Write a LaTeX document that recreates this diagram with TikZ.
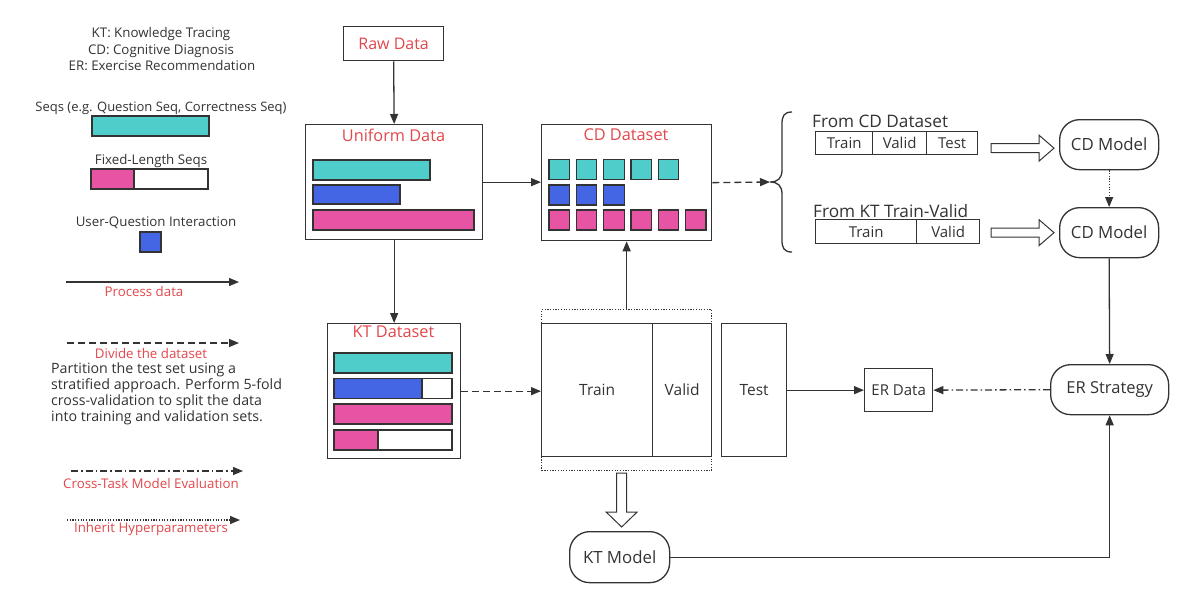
\documentclass[tikz,border=0pt]{standalone}
\usepackage{fontspec}
\setmainfont{Open Sans}
\usetikzlibrary{arrows.meta,calc}
\definecolor{lc}{HTML}{333333}
\definecolor{rtxt}{HTML}{E2474B}
\definecolor{teal1}{HTML}{4ECDCB}
\definecolor{blue1}{HTML}{4466E4}
\definecolor{mag1}{HTML}{E754A4}
\newcommand{\hollowR}[2]{\draw[draw=lc,line width=1pt,fill=white] let \p1=(#1), \p2=(#2) in (\x1,\y1+4.5pt) -- (\x2-15pt,\y1+4.5pt) -- (\x2-15pt,\y1+13pt) -- (\x2,\y1) -- (\x2-15pt,\y1-13pt) -- (\x2-15pt,\y1-4.5pt) -- (\x1,\y1-4.5pt) -- cycle;}
\newcommand{\hollowD}[2]{\draw[draw=lc,line width=1pt,fill=white] let \p1=(#1), \p2=(#2) in (\x1-5pt,\y1) -- (\x1-5pt,\y2+15pt) -- (\x1-15.5pt,\y2+15pt) -- (\x1,\y2) -- (\x1+15.5pt,\y2+15pt) -- (\x1+5pt,\y2+15pt) -- (\x1+5pt,\y1) -- cycle;}
\begin{document}
\begin{tikzpicture}[x=1pt,y=-1pt,
  ln/.style={draw=lc, line width=1.3pt},
  arr/.style={ln, -{Triangle[length=10pt,width=8pt]}},
  box/.style={draw=lc, line width=1.3pt, inner sep=0pt, anchor=north west, text=lc, font=\fontsize{15}{18}\selectfont},
  rbox/.style={box, rounded corners=20pt, font=\fontsize{16.8}{20}\selectfont},
  txt/.style={text=lc, inner sep=0pt, font=\fontsize{13.3}{16}\selectfont},
  rtx/.style={text=rtxt, inner sep=0pt, font=\fontsize{13.3}{16}\selectfont},
  ttl/.style={text=rtxt, inner sep=0pt, font=\fontsize{16.3}{19}\selectfont},
  bar/.style={draw=lc, line width=1.2pt},
  dashpat/.style={dash pattern=on 7pt off 4pt},
  dotpat/.style={dash pattern=on 1.2pt off 1.5pt},
  dashdotpat/.style={dash pattern=on 7pt off 3pt on 1.5pt off 3pt}
]
\useasboundingbox (0,0) rectangle (1192,606);
\fill[white] (0,0) rectangle (1192,606);

% ---------------- legend ----------------
\node[txt] (lg1) at (161,34) {KT: Knowledge Tracing};
\node[txt] (lg2) at (161,51) {CD: Cognitive Diagnosis};
\node[txt] (lg3) at (162,66) {ER: Exercise Recommendation};
\node[txt, font=\fontsize{13}{16}\selectfont] (lgs) at (161,108) {Seqs (e.g. Question Seq, Correctness Seq)};
\draw[bar, fill=teal1] (92,116) rectangle (209,136);
\node[txt] (lgf) at (151,161) {Fixed-Length Seqs};
\draw[bar, fill=white] (91,169) rectangle (208,189);
\draw[bar, fill=mag1] (91,169) rectangle (134,189);
\node[txt] (lgu) at (156,223) {User-Question Interaction};
\draw[bar, fill=blue1] (140,232) rectangle (161,252);

\coordinate (la1) at (66,282); \coordinate (lb1) at (239,282);
\draw[arr] (la1) -- (lb1);
\node[rtx] (lt1) at (144,292) {Process data};

\coordinate (la2) at (67,343); \coordinate (lb2) at (239,343);
\draw[arr, dashpat] (la2) -- (lb2);
\node[rtx] (lt2) at (151,354) {Divide the dataset};
\node[txt, anchor=north west, align=left, font=\fontsize{14.2}{16}\selectfont] (lpar) at (51,362.5) {Partition the test set using a\\stratified approach. Perform 5-fold\\cross-validation to split the data\\into training and validation sets.};

\coordinate (la3) at (71,471); \coordinate (lb3) at (243,471);
\draw[arr, dashdotpat] (la3) -- (lb3);
\node[rtx] (lt3) at (151,484) {Cross-Task Model Evaluation};

\coordinate (la4) at (67,520); \coordinate (lb4) at (240,520);
\draw[arr, dotpat] (la4) -- (lb4);
\node[rtx] (lt4) at (151,529) {Inherit Hyperparameters};

% ---------------- main nodes ----------------
\node[box, text=rtxt, minimum width=100pt, minimum height=34pt, font=\fontsize{16}{19}\selectfont] (raw) at (343,26) {Raw Data};

\node[box, minimum width=177pt, minimum height=115pt] (uni) at (305,124) {};
\node[ttl] (unit) at (393.5,135) {Uniform Data};
\draw[bar, fill=teal1] (313,160) rectangle (430,180);
\draw[bar, fill=blue1] (313,185) rectangle (400,204);
\draw[bar, fill=mag1] (313,210) rectangle (474,230);

\node[box, minimum width=170pt, minimum height=116pt] (cdd) at (541,124) {};
\node[ttl] (cddt) at (626,135) {CD Dataset};
\foreach \i in {0,...,4} \draw[bar, fill=teal1] (549+\i*27.3,159.5) rectangle ++(20.5,20);
\foreach \i in {0,...,2} \draw[bar, fill=blue1] (549+\i*27.3,185) rectangle ++(20.5,20);
\foreach \i in {0,...,5} \draw[bar, fill=mag1] (549+\i*27.3,210) rectangle ++(20.5,20);

\node[box, minimum width=133pt, minimum height=135pt] (ktd) at (327,323) {};
\node[ttl] (ktdt) at (393.5,332) {KT Dataset};
\draw[bar, fill=teal1] (334,353) rectangle (452,373);
\draw[bar, fill=white] (334,378.5) rectangle (452,398.5);
\draw[bar, fill=blue1] (334,378.5) rectangle (422,398.5);
\draw[bar, fill=mag1] (334,404) rectangle (452,424);
\draw[bar, fill=white] (334,430) rectangle (452,450);
\draw[bar, fill=mag1] (334,430) rectangle (378,450);

\node[box, dotpat, minimum width=170pt, minimum height=161pt] (tvo) at (541,309) {};
\node[box, minimum width=111pt, minimum height=133pt, font=\fontsize{15.5}{18}\selectfont] (trn) at (541,323) {Train};
\node[box, minimum width=59pt, minimum height=133pt, font=\fontsize{15.5}{18}\selectfont] (val) at (652,323) {Valid};
\node[box, minimum width=65pt, minimum height=133pt, font=\fontsize{15.5}{18}\selectfont] (tst) at (721,323) {Test};

\node[box, minimum width=68pt, minimum height=43pt] (erd) at (864,368) {ER Data};
\node[rbox, minimum width=118pt, minimum height=50pt, font=\fontsize{16.5}{20}\selectfont] (ers) at (1050,364) {ER Strategy};
\node[rbox, minimum width=99pt, minimum height=50pt] (cdm1) at (1059,119) {CD Model};
\node[rbox, minimum width=99pt, minimum height=50pt] (cdm2) at (1059,207) {CD Model};
\node[rbox, minimum width=100pt, minimum height=51pt] (ktm) at (569,531) {KT Model};

% tables
\node[txt, anchor=west, font=\fontsize{17.2}{20}\selectfont] (fcd) at (812,121) {From CD Dataset};
\node[box, minimum width=57pt, minimum height=23pt] (c1a) at (815,131) {Train};
\node[box, minimum width=54pt, minimum height=23pt] (c1b) at (872,131) {Valid};
\node[box, minimum width=51pt, minimum height=23pt] (c1c) at (926,131) {Test};
\node[txt, anchor=west, font=\fontsize{17.2}{20}\selectfont] (fkt) at (813,211) {From KT Train-Valid};
\node[box, minimum width=101pt, minimum height=24pt] (c2a) at (815,219) {Train};
\node[box, minimum width=63pt, minimum height=24pt] (c2b) at (916,219) {Valid};

% brace
\draw[ln] (792,112) .. controls (784,112) and (782,116) .. (782,124) -- (782,170) .. controls (782,178) and (778,182) .. (770,182) .. controls (778,182) and (782,186) .. (782,194) -- (782,240) .. controls (782,248) and (784,252) .. (792,252);
\coordinate (btip) at (770,182);

% ---------------- connectors ----------------
\draw[arr] (raw.south) -- (uni.north);
\draw[arr] (uni.east) -- (uni.east -| cdd.west);
\draw[arr] (uni.south) -- (ktd.north);
\draw[arr, dashpat] (cdd.east) -- (btip);
\draw[arr] (tvo.north) -- (cdd.south);
\draw[arr, dashpat] (ktd.east) -- (ktd.east -| trn.west);
\draw[arr] (tst.east) -- (erd.west);
\draw[arr, dashdotpat] (ers.west) -- (erd.east);
\draw[arr, dotpat] (cdm1.south) -- (cdm2.north);
\draw[arr] (cdm2.south) -- (ers.north);
\draw[arr] (ktm.east) -| (ers.south);

\hollowR{$(cdm1.west)+(-68,3.5)$}{$(cdm1.west)+(-5,3.5)$}
\hollowR{$(cdm2.west)+(-68,0)$}{$(cdm2.west)+(-5,0)$}
\hollowD{$(ktm.north)+(2,-58)$}{$(ktm.north)+(2,-4)$}
\end{tikzpicture}
\end{document}
